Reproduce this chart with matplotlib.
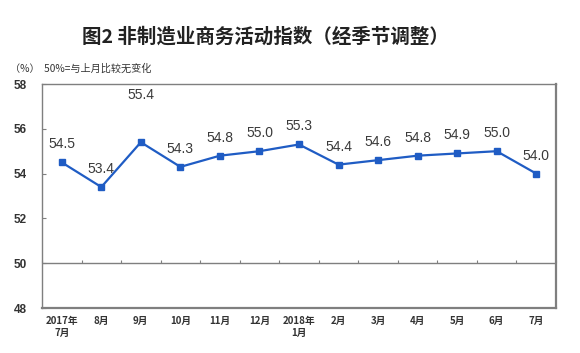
import matplotlib.pyplot as plt
import numpy as np

plt.rcParams['font.family'] = ['Noto Sans CJK SC', 'DejaVu Sans']

# data
months = ['2017年\n7月', '8月', '9月', '10月', '11月', '12月', '2018年\n1月',
          '2月', '3月', '4月', '5月', '6月', '7月']
values = [54.5, 53.4, 55.4, 54.3, 54.8, 55.0, 55.3, 54.4, 54.6, 54.8, 54.9, 55.0, 54.0]
yticks = [48, 50, 52, 54, 56, 58]

x = np.arange(len(months))

fig = plt.figure(figsize=(5.8, 3.53), dpi=100)
ax = fig.add_axes([42/580, 1-308/353, 514/580, 224/353])

line_color = '#1F5CC4'
frame_color = '#7f7f7f'

ax.plot(x, values, color=line_color, lw=1.6, marker='s', ms=4.2, zorder=3)

# value labels above points
for i, v in enumerate(values):
    off = 34 if i == 2 else 13
    ax.annotate(f'{v:.1f}', (i, v), xytext=(0, off), textcoords='offset points',
                ha='center', va='center', fontsize=10, color='#3a3a3a',
                family='Liberation Sans')

ax.set_xlim(-0.5, len(months) - 0.5)
ax.set_ylim(48, 58)
ax.set_yticks(yticks)
ax.set_yticklabels([str(t) for t in yticks], fontsize=8.5, color='#333333',
                   family='Liberation Sans', fontweight='bold')
ax.tick_params(axis='y', direction='in', length=3, color=frame_color, pad=11)

ax.set_xticks(x)
ax.set_xticklabels(months, fontsize=7, color='#333333', fontweight='bold',
                   linespacing=1.25)
ax.tick_params(axis='x', length=0, pad=6)

for s in ax.spines.values():
    s.set_color(frame_color)
    s.set_linewidth(1.0)
ax.spines['right'].set_linewidth(1.6)
ax.spines['bottom'].set_linewidth(1.6)

# 50 line with category boundary ticks
ax.axhline(50, color=frame_color, lw=1.0, zorder=1)
sec = ax.secondary_xaxis(0.2)
sec.set_xticks(np.arange(len(months) + 1) - 0.5)
sec.tick_params(direction='in', length=2.5, color=frame_color, labelbottom=False)
sec.spines['bottom'].set_visible(False)

fig.text(265/580, 1-37/353, '图2 非制造业商务活动指数（经季节调整）', ha='center',
         va='center', fontsize=14, fontweight='bold', color='#222222')
fig.text(10/580, 1-69/353, '（%）  50%=与上月比较无变化', ha='left', va='center',
         fontsize=7.3, color='#333333')

plt.savefig('out.png', dpi=100)
